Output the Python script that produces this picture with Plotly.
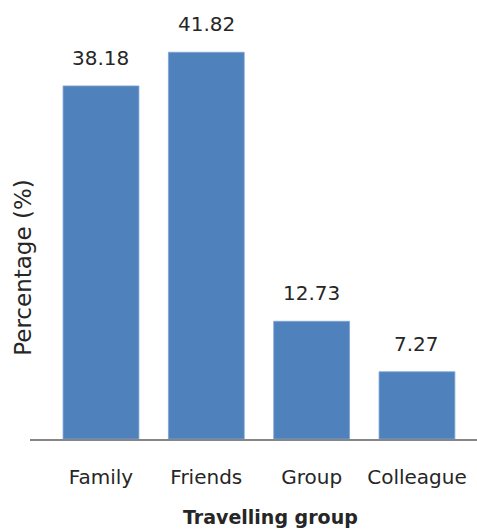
import plotly.graph_objects as go

# Share of respondents by travelling group
groups = ["Family", "Friends", "Group", "Colleague"]
percentages = [38.18, 41.82, 12.73, 7.27]

BAR_COLOR = "#4F81BD"
AXIS_COLOR = "#868686"
TEXT_COLOR = "#262626"
FONT = "DejaVu Sans"

PLOT_H = 439  # plot area height in px (figure height minus bottom margin)

fig = go.Figure()
fig.add_trace(go.Bar(
    x=list(range(len(groups))),
    y=percentages,
    width=0.72,
    marker=dict(color=BAR_COLOR, line=dict(color="#7FA3D3", width=0.8)),
    hoverinfo="skip",
))

# value labels above each bar
for i, v in enumerate(percentages):
    fig.add_annotation(
        x=i, y=v, text=f"{v:.2f}", showarrow=False,
        yanchor="bottom", yshift=14,
        font=dict(family=FONT, size=20, color=TEXT_COLOR),
    )

# y-axis title
fig.add_annotation(
    xref="paper", yref="paper", x=0.0, y=0.39,
    xanchor="center", yanchor="middle", xshift=-7,
    text="Percentage (%)", textangle=-90, showarrow=False,
    font=dict(family=FONT, size=23, color=TEXT_COLOR),
)

# x-axis title
fig.add_annotation(
    xref="paper", yref="paper", x=0.537, y=-78 / PLOT_H,
    xanchor="center", yanchor="middle",
    text="<b>Travelling group</b>", showarrow=False,
    font=dict(family=FONT, size=19, color=TEXT_COLOR),
)

fig.update_layout(
    width=477, height=531,
    margin=dict(l=30, r=0, t=0, b=531 - PLOT_H),
    paper_bgcolor="white", plot_bgcolor="white",
    showlegend=False,
    xaxis=dict(
        tickmode="array",
        tickvals=list(range(len(groups))),
        ticktext=groups,
        range=[-0.674, 3.57],
        showline=True, linecolor=AXIS_COLOR, linewidth=1.5,
        ticks="", showgrid=False, zeroline=False,
        ticklabelstandoff=19,
        tickfont=dict(family=FONT, size=20, color=TEXT_COLOR),
    ),
    yaxis=dict(
        range=[0, 47.47],
        showticklabels=False, showgrid=False, zeroline=False,
        showline=False, ticks="",
    ),
)

fig.write_html("out.html")
